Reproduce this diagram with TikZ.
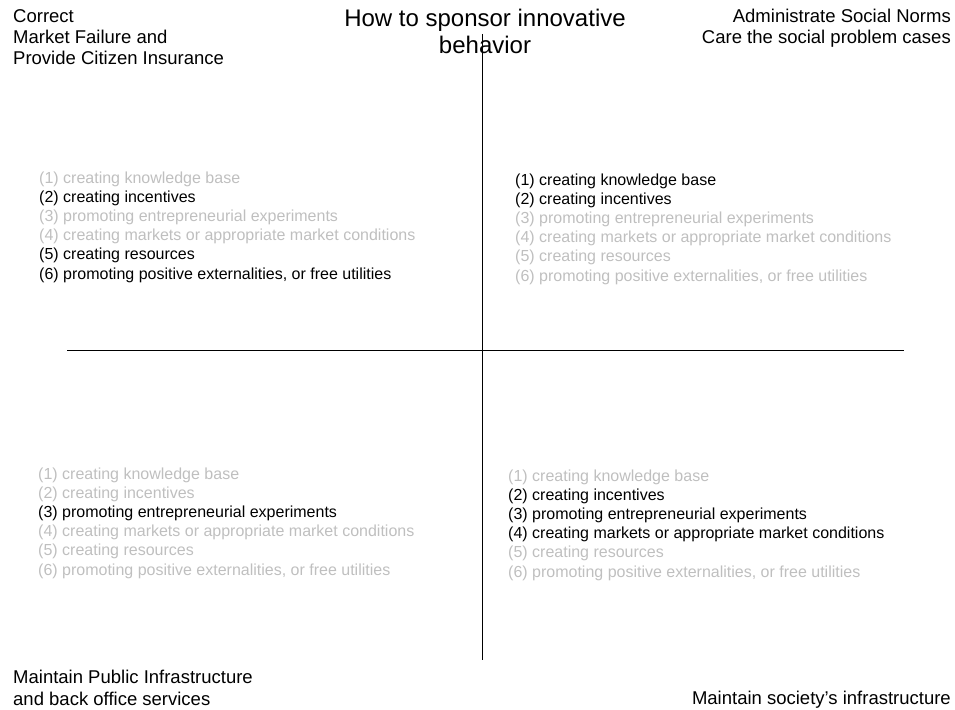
\documentclass[tikz,border=0pt]{standalone}
\usepackage{fontspec}
\setmainfont{Liberation Sans}
\definecolor{fadegray}{gray}{0.75}
\newcommand{\policy}[1]{\ifcase#1\or
  (1) creating knowledge base\or
  (2) creating incentives\or
  (3) promoting entrepreneurial experiments\or
  (4) creating markets or appropriate market conditions\or
  (5) creating resources\or
  (6) promoting positive externalities, or free utilities\fi}

\begin{document}
\begin{tikzpicture}[x=1pt,y=-1pt]
    \useasboundingbox (0,0) rectangle (955,709);

    % Axes %
    \coordinate (top) at (482,34);
    \coordinate (bottom) at (482,660);
    \coordinate (left) at (67,350);
    \coordinate (right) at (904,350);
    \draw[line width=0.9pt] (top) -- (bottom);
    \draw[line width=0.9pt] (left) -- (right);

    % Title and corner labels (base = last line) %
    \node[align=center, anchor=base, font=\fontsize{24}{27}\selectfont] (title) at (485,54) {How to sponsor innovative\\behavior};
    \begin{scope}[every node/.style={inner sep=0pt, font=\fontsize{18.5}{21.5}\selectfont}]
        \node[align=left, anchor=base west] (tl) at (13,65) {Correct\\Market Failure and\\Provide Citizen Insurance};
        \node[align=right, anchor=base east] (tr) at (951,44) {Administrate Social Norms\\Care the social problem cases};
        \node[align=left, anchor=base west] (bl) at (13,705) {Maintain Public Infrastructure\\and back office services};
        \node[anchor=base east] (br) at (951,704) {Maintain society's infrastructure};
    \end{scope}

    % Policy lists per quadrant %
    \begin{scope}[every node/.style={inner sep=0pt, anchor=base west, font=\fontsize{16}{19}\selectfont},
                  chosen/.style={text=black}, faded/.style={text=fadegray}]
        \foreach \i/\s in {1/faded,2/chosen,3/faded,4/faded,5/chosen,6/chosen}
            \node[\s] (tl\i) at (39,{183+(\i-1)*19.2}) {\policy{\i}};
        \foreach \i/\s in {1/chosen,2/chosen,3/faded,4/faded,5/faded,6/faded}
            \node[\s] (tr\i) at (515,{185+(\i-1)*19.2}) {\policy{\i}};
        \foreach \i/\s in {1/faded,2/faded,3/chosen,4/faded,5/faded,6/faded}
            \node[\s] (bl\i) at (38,{479+(\i-1)*19.2}) {\policy{\i}};
        \foreach \i/\s in {1/faded,2/chosen,3/chosen,4/chosen,5/faded,6/faded}
            \node[\s] (br\i) at (508,{481+(\i-1)*19.2}) {\policy{\i}};
    \end{scope}

\end{tikzpicture}
\end{document}
